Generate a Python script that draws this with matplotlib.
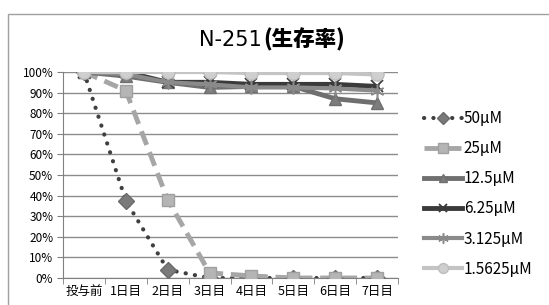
import matplotlib
matplotlib.use('Agg')
import matplotlib.pyplot as plt
from matplotlib.patches import Rectangle
import numpy as np

plt.rcParams['font.family'] = ['Noto Sans CJK JP', 'DejaVu Sans']

days = ['投与前', '1日目', '2日目', '3日目', '4日目', '5日目', '6日目', '7日目']
labels = ['50μM', '25μM', '12.5μM', '6.25μM', '3.125μM', '1.5625μM']
s50 = [100, 37.5, 4, 0, 0, 0, 0, 0]
s25 = [100, 91, 38, 2.5, 1, 0, 0, 0]
s12_5 = [100, 98, 95, 92.5, 93, 93, 87, 85]
s6_25 = [100, 100, 95, 95, 94, 94, 94, 93]
s3_125 = [100, 99, 95, 94, 92.5, 92.5, 92, 91]
s1_5625 = [100, 100, 100, 100, 99.5, 99.5, 99.5, 98.8]

fig = plt.figure(figsize=(5.49, 3.05), dpi=100)
ax = fig.add_axes([63/549, 1-278/305, 335/549, 206/305])

x = np.arange(len(days))
y = lambda s: np.array(s) / 100.0

ax.plot(x, y(s50), color='#3f3f3f', lw=3, linestyle=(0, (0.05, 2.2)), dash_capstyle='round',
        marker='D', ms=8, mfc='#7a7a7a', mec='#6a6a6a', label=labels[0], zorder=3)
ax.plot(x, y(s25), color='#a6a6a6', lw=3.5, linestyle=(0, (3, 1.6)),
        marker='s', ms=9, mfc='#b5b5b5', mec='#a0a0a0', label=labels[1], zorder=4)
ax.plot(x, y(s12_5), color='#6f6f6f', lw=3.5,
        marker='^', ms=8.5, mfc='#7d7d7d', mec='#6f6f6f', label=labels[2], zorder=5)
ax.plot(x, y(s6_25), color='#3a3a3a', lw=3.5,
        marker='x', ms=8, mew=1.3, mec='#3a3a3a', label=labels[3], zorder=6)
ax.plot(x, y(s3_125), color='#8a8a8a', lw=3,
        marker=(6, 2, 0), ms=10, mew=1.1, mec='#8a8a8a', label=labels[4], zorder=7)
ax.plot(x, y(s1_5625), color='#c4c4c4', lw=3,
        marker='o', ms=9.5, mfc='#cfcfcf', mec='#bdbdbd', label=labels[5], zorder=8)

ax.set_xlim(-0.5, len(days) - 0.5)
ax.set_ylim(0, 1)
ax.set_yticks(np.arange(0, 1.01, 0.1))
ax.set_yticklabels([f'{int(v)}%' for v in np.arange(0, 101, 10)], fontsize=8.5)
ax.set_xticks(x)
ax.set_xticklabels(days, fontsize=9)
ax.set_xticks(np.arange(-0.5, len(days), 1), minor=True)
ax.tick_params(axis='x', which='major', length=0, pad=5)
ax.tick_params(axis='x', which='minor', length=4, color='#808080')
ax.tick_params(axis='y', length=4, color='#808080', pad=3)
ax.grid(axis='y', color='#8c8c8c', lw=1)
ax.set_axisbelow(True)
for side in ['top', 'right']:
    ax.spines[side].set_visible(False)
for side in ['left', 'bottom']:
    ax.spines[side].set_color('#808080')

fig.text(262/549, 1-40/305, 'N-251', ha='right', va='center', fontsize=15, family='DejaVu Sans')
fig.text(263/549, 1-40/305, '(生存率)', ha='left', va='center', fontsize=15.5, fontweight='heavy')

ax.legend(loc='upper left', bbox_to_anchor=(424/549, 1-110/305), bbox_transform=fig.transFigure,
          frameon=False, fontsize=11, handlelength=2.5, handletextpad=0.1, labelspacing=0.86,
          borderpad=0, borderaxespad=0, markerscale=0.75)

fig.patches.append(Rectangle((8/549, -0.1), 1.0, 1 - 14/305 + 0.1, transform=fig.transFigure,
                             fill=False, edgecolor='#a0a0a0', lw=1))

plt.savefig('out.png', dpi=100)
